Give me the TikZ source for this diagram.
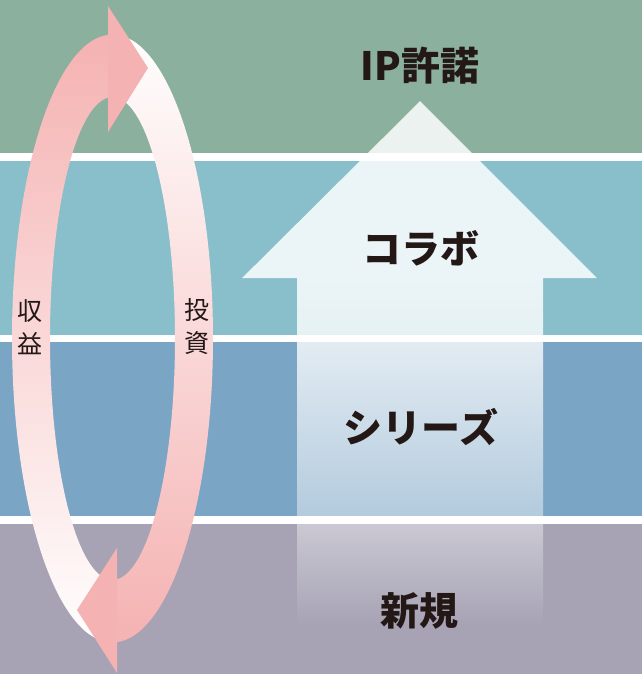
\documentclass[tikz,border=0pt]{standalone}
\usepackage{fontspec}
\usepackage{xcolor}
\usetikzlibrary{%
	calc,%
	fadings,%
	backgrounds
}
\newfontfamily\jpfont{Noto Sans CJK JP}
\definecolor{bandA}{HTML}{8CB09E}
\definecolor{bandB}{HTML}{88BFCA}
\definecolor{bandC}{HTML}{7BA5C5}
\definecolor{bandD}{HTML}{A7A3B5}
\definecolor{ringpink}{HTML}{F5B2B2}
\definecolor{ringmid}{HTML}{F9CDCD}
\definecolor{inkjp}{HTML}{231815}
\pgfdeclareverticalshading{shaftshade}{100bp}{color(0bp)=(black); color(29.3bp)=(black); color(38.1bp)=(black!59); color(54bp)=(black!21); color(60bp)=(black!16); color(100bp)=(black!16)}
\pgfdeclarefading{shaftfade}{\pgfuseshading{shaftshade}}

\begin{document}
\begin{tikzpicture}[x=1pt,y=1pt,
	steplabel/.style={text=inkjp,font=\jpfont\bfseries\fontsize{39}{44}\selectfont},
	ringlabel/.style={text=inkjp,align=center,font=\jpfont\fontsize{25}{33}\selectfont}]
	\useasboundingbox (0,0) rectangle (642,674);
	\foreach \yb/\yt/\c [count=\Z] in {521/674/bandA,339/513/bandB,158/332/bandC,0/150/bandD}
	{\fill[\c] (0,\yb) rectangle (642,\yt);}
	\fill[white,path fading=shaftfade,fit fading=true] (420,573) -- (597,396) -- (543,396) -- (543,0) -- (297,0) -- (297,396) -- (242,396) -- cycle;
	\node[steplabel] (ip) at (420,608) {IP許諾};
	\node[steplabel] (collab) at (421,426) {コラボ};
	\node[steplabel] (series) at (421,247) {シリーズ};
	\node[steplabel] (new) at (419,63) {新規};
	\begin{scope}
		\coordinate (ring) at (112.5,335.5);
		\shade[top color=ringpink,middle color=ringmid,bottom color=white]
		([shift={(272.566:100.5 and 304)}]ring) arc[start angle=272.566,end angle=92.566,x radius=100.5,y radius=304]
		-- ([shift={(94.129:62.5 and 241.5)}]ring) arc[start angle=94.129,end angle=274.129,x radius=62.5,y radius=241.5] -- cycle;
		\shade[top color=white,middle color=ringmid,bottom color=ringpink]
		([shift={(92.566:100.5 and 304)}]ring) arc[start angle=92.566,end angle=-87.434,x radius=100.5,y radius=304]
		-- ([shift={(-85.871:62.5 and 241.5)}]ring) arc[start angle=-85.871,end angle=94.129,x radius=62.5,y radius=241.5] -- cycle;
		\fill[ringpink] (108,668) -- (148,606) -- (108,542) -- cycle;
		\fill[ringpink] (117,126) -- (77,64) -- (117,1) -- cycle;
		\node[ringlabel] (revenue) at (30,347) {収\\益};
		\node[ringlabel] (invest) at (197,347) {投\\資};
	\end{scope}
\end{tikzpicture}
\end{document}
